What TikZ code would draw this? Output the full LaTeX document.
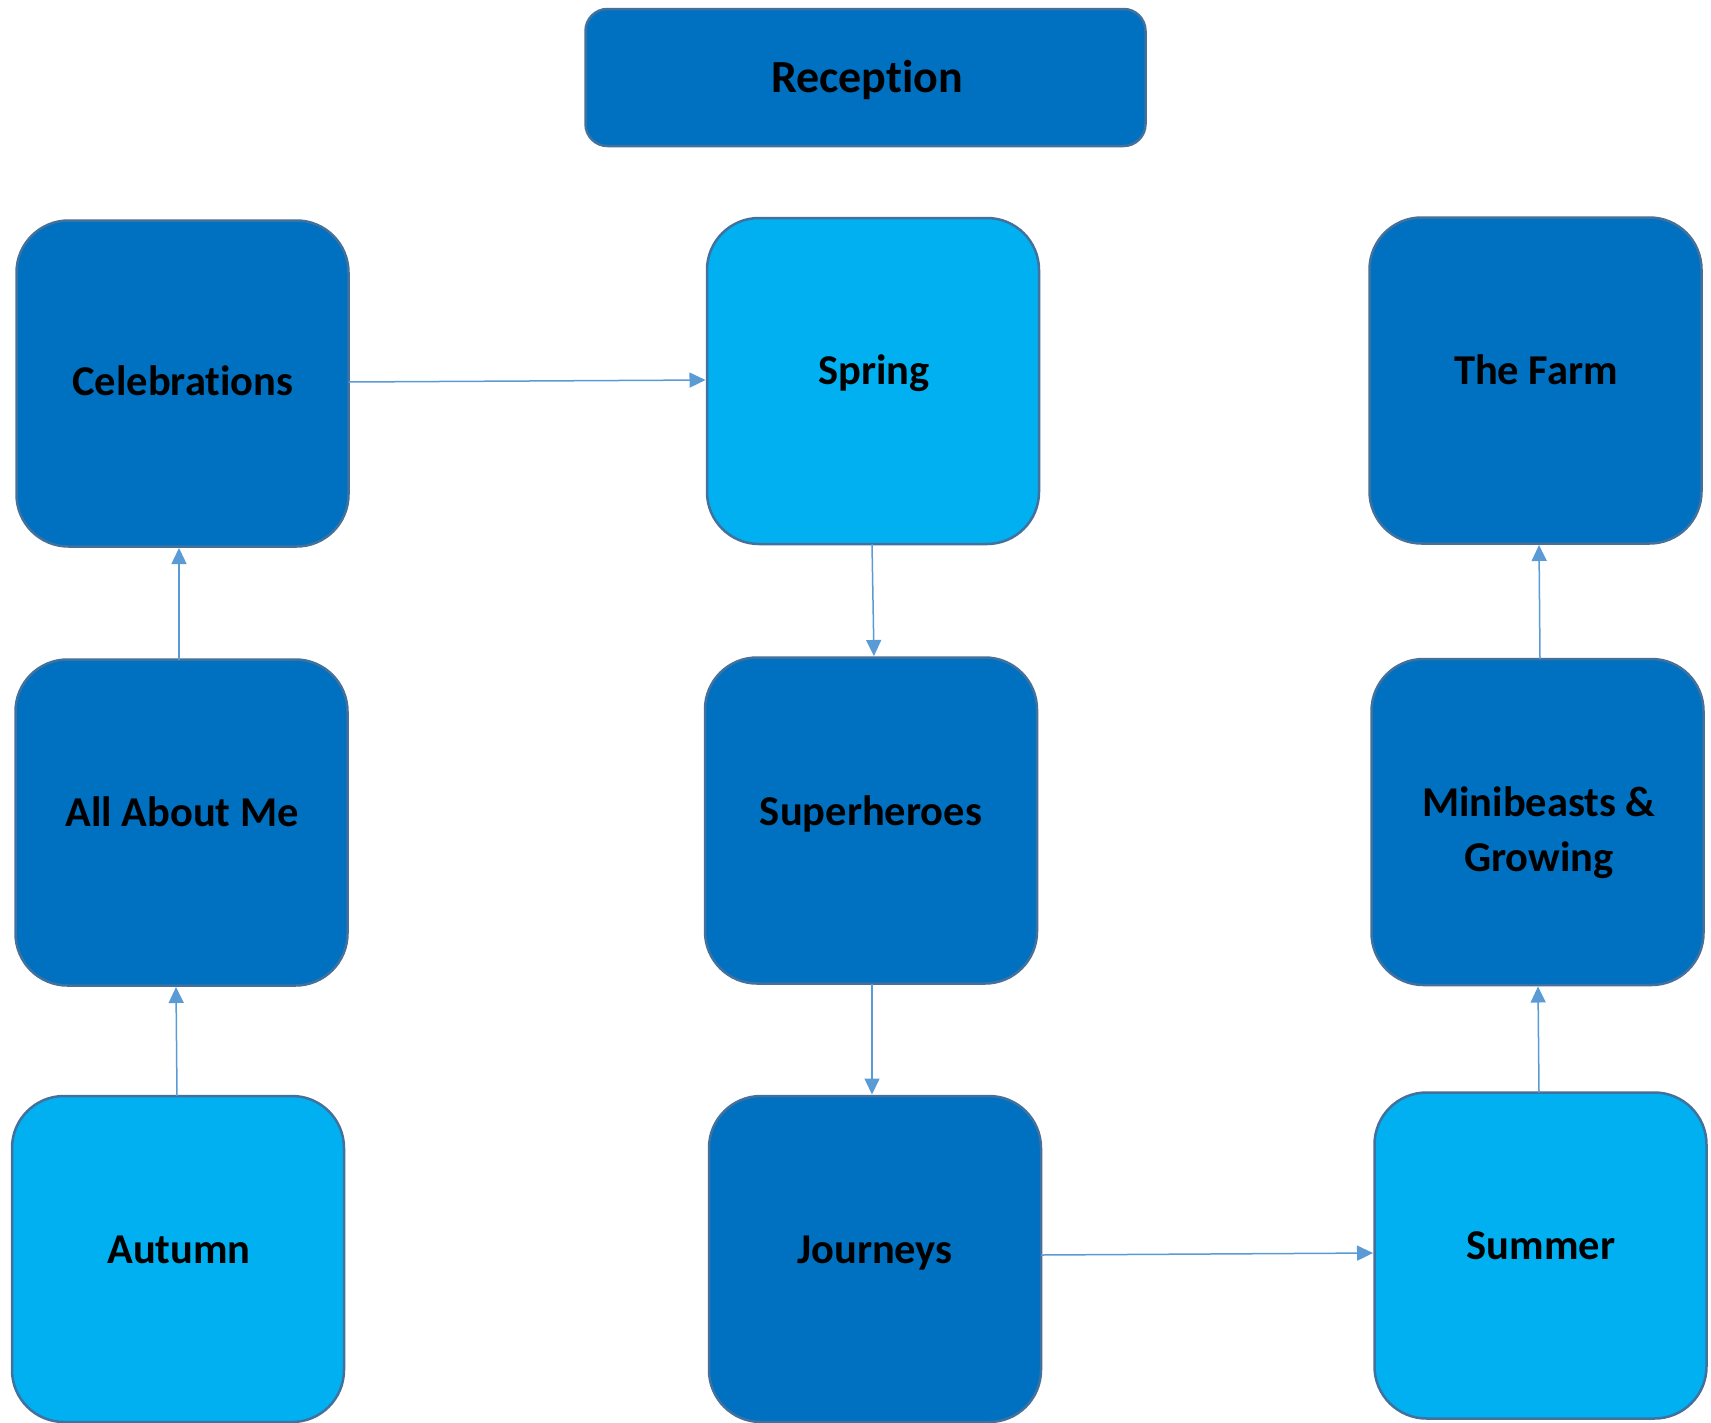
\documentclass[tikz,border=0pt]{standalone}
\usepackage{fontspec}
\setmainfont{Carlito}[Ligatures=NoCommon]
\usetikzlibrary{arrows.meta}
\definecolor{darkfill}{HTML}{0070C0}
\definecolor{lightfill}{HTML}{00B0F0}
\definecolor{boxborder}{HTML}{41719C}
\definecolor{conncol}{HTML}{5B9BD5}
\begin{document}
\begin{tikzpicture}[x=1pt,y=-1pt,
  topicbox/.style={draw=boxborder, line width=2.5pt, rectangle, rounded corners=52pt,
    minimum width=332pt, minimum height=326pt, inner sep=0pt, outer sep=0pt},
  darkbox/.style={topicbox, fill=darkfill},
  lightbox/.style={topicbox, fill=lightfill},
  titlebox/.style={draw=boxborder, line width=2.5pt, rectangle, rounded corners=22pt, fill=darkfill,
    minimum width=560pt, minimum height=137pt, inner sep=0pt, outer sep=0pt},
  lbl/.style={anchor=base, font=\fontsize{42.5pt}{55pt}\selectfont\bfseries, text=black, align=center, inner sep=0pt},
  titlelbl/.style={anchor=base, font=\fontsize{46pt}{55pt}\selectfont\bfseries, text=black, inner sep=0pt},
  conn/.style={draw=conncol, line width=1.5pt, -{Triangle[length=16pt,width=15pt]}, shorten >=1.5pt}
]
\useasboundingbox (0,0) rectangle (1711,1422);
\fill[white] (0,0) rectangle (1711,1422);

% boxes
\node[titlebox] (rec) at (865.5,77.5) {};
\node[darkbox] (cel) at (182.5,383.5) {};
\node[lightbox] (spring) at (873,381) {};
\node[darkbox] (farm) at (1535.5,380.5) {};
\node[darkbox] (allme) at (181.5,822.5) {};
\node[darkbox] (super) at (871,820.5) {};
\node[darkbox] (mini) at (1537.5,822) {};
\node[lightbox] (autumn) at (178,1259) {};
\node[darkbox] (journ) at (875,1259) {};
\node[lightbox] (summer) at (1540.5,1255.5) {};

% labels
\node[titlelbl] (trec) at (867,92) {Reception};
\node[lbl] (tcel) at (183,395) {Celebrations};
\node[lbl] (tspring) at (874,384) {Spring};
\node[lbl] (tfarm) at (1536,384.5) {The Farm};
\node[lbl] (tallme) at (182,826.5) {All About Me};
\node[lbl] (tsuper) at (871,825.5) {Superheroes};
\node[lbl] (tmini) at (1539,871) {Minibeasts \&\\Growing};
\node[lbl] (tautumn) at (179,1263) {Autumn};
\node[lbl] (tjourn) at (875,1263) {Journeys};
\node[lbl] (tsummer) at (1541,1259) {Summer};

% connectors
\draw[conn] (autumn.north -| 177,0) -- (allme.south -| 176,0);
\draw[conn] (allme.north -| 179,0) -- (cel.south -| 179,0);
\draw[conn] (cel.east |- 0,382) -- (spring.west |- 0,380);
\draw[conn] (spring.south -| 872,0) -- (super.north -| 874,0);
\draw[conn] (super.south -| 872,0) -- (journ.north -| 872,0);
\draw[conn] (journ.east |- 0,1255) -- (summer.west |- 0,1253);
\draw[conn] (summer.north -| 1539,0) -- (mini.south -| 1538,0);
\draw[conn] (mini.north -| 1540,0) -- (farm.south -| 1539,0);
\end{tikzpicture}
\end{document}
